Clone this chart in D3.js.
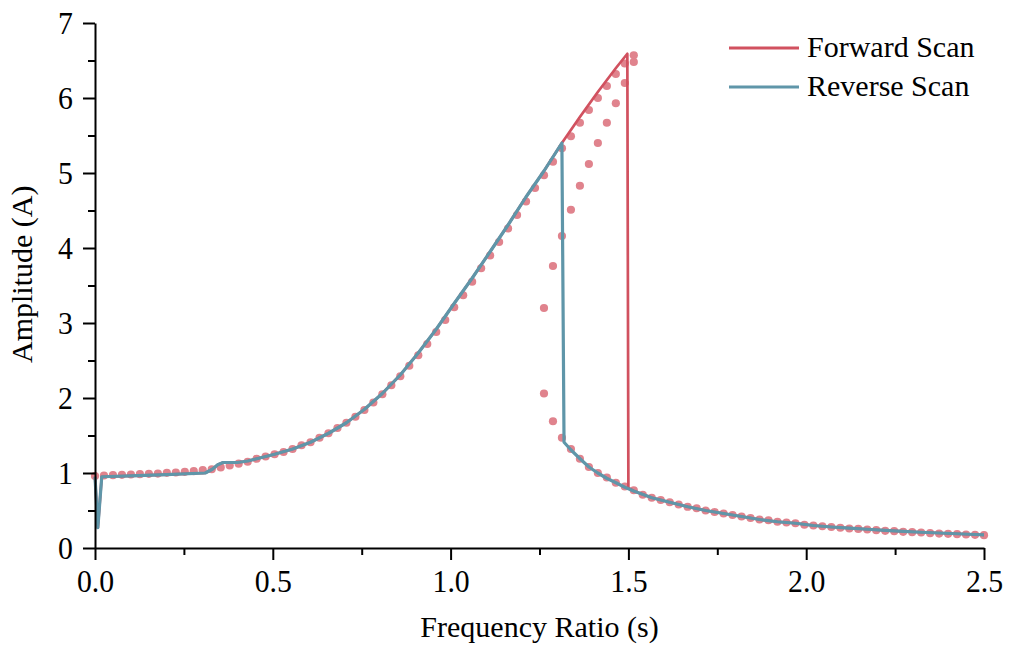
<!DOCTYPE html>
<html>
<head>
<meta charset="utf-8">
<script src="https://cdn.jsdelivr.net/npm/d3@7"></script>
<style>
  html, body { margin: 0; padding: 0; background: #fff; }
  svg { display: block; font-family: "Liberation Serif", "Times New Roman", serif; }
</style>
</head>
<body>
<svg width="1009" height="648"></svg>
<script>

// analytic response (dots), sampled on 100 points between 0 and 2.5
var dotStep = 2.5 / 99;

// stable / upper branch, index 0..60
var dotsUpper = [0.96, 0.967, 0.971, 0.976, 0.98, 0.984, 0.989, 0.993, 1.002, 1.007,
                 1.016, 1.024, 1.038, 1.05, 1.075, 1.10, 1.125, 1.15, 1.19, 1.22,
                 1.25, 1.28, 1.32, 1.37, 1.41, 1.47, 1.53, 1.60, 1.67, 1.75,
                 1.84, 1.94, 2.05, 2.17, 2.29, 2.43, 2.57, 2.72, 2.88, 3.04,
                 3.21, 3.37, 3.55, 3.73, 3.90, 4.08, 4.26, 4.44, 4.62, 4.80,
                 4.97, 5.15, 5.33, 5.49, 5.67, 5.84, 6.00, 6.16, 6.32, 6.46,
                 6.57];

// unstable branch, index 50..60
var dotsUnstable = [3.20, 3.76, 4.16, 4.51, 4.83, 5.12, 5.40, 5.67, 5.93, 6.20, 6.48];

// lower branch, index 50..99
var dotsLower = [2.06, 1.69, 1.47, 1.32, 1.19, 1.08, 1.00, 0.94, 0.87, 0.82,
                 0.77, 0.71, 0.67, 0.64, 0.61, 0.58, 0.55, 0.53, 0.50, 0.48,
                 0.46, 0.44, 0.42, 0.40, 0.38, 0.37, 0.35, 0.34, 0.33, 0.31,
                 0.30, 0.29, 0.28, 0.27, 0.26, 0.255, 0.247, 0.238, 0.229, 0.224,
                 0.216, 0.211, 0.207, 0.198, 0.193, 0.189, 0.184, 0.18, 0.176, 0.171];

// simulated scans
var forwardX = [0, 0.008, 0.019, 0.1, 0.2, 0.31, 0.33, 0.345, 0.36, 0.40,
                0.43, 0.455, 0.48, 0.505, 0.556, 0.606, 0.657, 0.707, 0.758, 0.808,
                0.859, 0.909, 0.960, 1.010, 1.061, 1.111, 1.162, 1.212, 1.263, 1.313,
                1.364, 1.414, 1.465, 1.497, 1.500, 1.515, 1.566, 1.616, 1.667, 1.717,
                1.768, 1.818, 1.869, 1.919, 1.970, 2.020, 2.071, 2.121, 2.172, 2.222,
                2.273, 2.323, 2.374, 2.424, 2.475, 2.5];
var forwardY = [0.95, 0.27, 0.95, 0.962, 0.978, 1.00, 1.05, 1.11, 1.14, 1.14,
                1.16, 1.19, 1.22, 1.25, 1.32, 1.41, 1.53, 1.67, 1.85, 2.06,
                2.31, 2.60, 2.92, 3.26, 3.60, 3.95, 4.31, 4.68, 5.03, 5.40,
                5.75, 6.08, 6.40, 6.59, 0.80, 0.76, 0.67, 0.61, 0.55, 0.50,
                0.46, 0.42, 0.38, 0.35, 0.33, 0.30, 0.28, 0.265, 0.25, 0.235,
                0.222, 0.21, 0.20, 0.19, 0.18, 0.175];

var reverseX = [0, 0.008, 0.019, 0.1, 0.2, 0.31, 0.33, 0.345, 0.36, 0.40,
                0.43, 0.455, 0.48, 0.505, 0.556, 0.606, 0.657, 0.707, 0.758, 0.808,
                0.859, 0.909, 0.960, 1.010, 1.061, 1.111, 1.162, 1.212, 1.263, 1.313,
                1.319, 1.338, 1.364, 1.389, 1.414, 1.439, 1.465, 1.490, 1.515, 1.566,
                1.616, 1.667, 1.717, 1.768, 1.818, 1.869, 1.919, 1.970, 2.020, 2.071,
                2.121, 2.172, 2.222, 2.273, 2.323, 2.374, 2.424, 2.475, 2.5];
var reverseY = [0.95, 0.27, 0.95, 0.962, 0.978, 1.00, 1.05, 1.11, 1.14, 1.14,
                1.16, 1.19, 1.22, 1.25, 1.32, 1.41, 1.53, 1.67, 1.85, 2.06,
                2.31, 2.60, 2.92, 3.26, 3.60, 3.95, 4.31, 4.68, 5.03, 5.40,
                1.41, 1.31, 1.19, 1.08, 1.00, 0.93, 0.87, 0.81, 0.76, 0.67,
                0.61, 0.55, 0.50, 0.46, 0.42, 0.38, 0.35, 0.33, 0.30, 0.28,
                0.265, 0.25, 0.235, 0.222, 0.21, 0.20, 0.19, 0.18, 0.175];

var xTicks = [0, 0.5, 1.0, 1.5, 2.0, 2.5];
var xMinorTicks = [0.25, 0.75, 1.25, 1.75, 2.25];
var yTicks = [0, 1, 2, 3, 4, 5, 6, 7];
var yMinorTicks = [0.5, 1.5, 2.5, 3.5, 4.5, 5.5, 6.5];

var seriesNames = ['Forward Scan', 'Reverse Scan'];
var seriesColors = ['#d1515f', '#5f96a9'];
var dotColor = '#e0838d';

var svg = d3.select('svg');

var x = d3.scaleLinear().domain([0, 2.5]).range([95, 984]);
var y = d3.scaleLinear().domain([0, 7]).range([548, 23]);

// dots
var dots = [];
dotsUpper.forEach(function(v, i){ dots.push([i * dotStep, v]) });
dotsUnstable.forEach(function(v, i){ dots.push([(i + 50) * dotStep, v]) });
dotsLower.forEach(function(v, i){ dots.push([(i + 50) * dotStep, v]) });

svg.append('g')
  .selectAll('circle')
  .data(dots)
  .enter()
  .append('circle')
    .attr('cx', function(d){ return x(d[0]) })
    .attr('cy', function(d){ return y(d[1]) })
    .attr('r', 4.1)
    .style('fill', dotColor);

// lines
var line = d3.line()
  .x(function(d){ return x(d[0]) })
  .y(function(d){ return y(d[1]) });

var forward = forwardX.map(function(v, i){ return [v, forwardY[i]] });
var reverse = reverseX.map(function(v, i){ return [v, reverseY[i]] });

svg.append('path')
  .datum(forward)
  .attr('d', line)
  .style('fill', 'none')
  .style('stroke', seriesColors[0])
  .style('stroke-width', 2.7)
  .style('stroke-linejoin', 'round');

svg.append('path')
  .datum(reverse)
  .attr('d', line)
  .style('fill', 'none')
  .style('stroke', seriesColors[1])
  .style('stroke-width', 3.2)
  .style('stroke-linejoin', 'round');

// axes
svg.append('g')
  .attr('transform', 'translate(0,' + y(0) + ')')
  .call(d3.axisBottom(x).tickValues(xTicks).tickFormat(d3.format('.1f'))
        .tickSize(12).tickSizeOuter(0).tickPadding(9));

svg.append('g')
  .attr('transform', 'translate(0,' + y(0) + ')')
  .call(d3.axisBottom(x).tickValues(xMinorTicks).tickFormat('')
        .tickSize(7).tickSizeOuter(0))
  .select('.domain').remove();

svg.append('g')
  .attr('transform', 'translate(' + x(0) + ',0)')
  .call(d3.axisLeft(y).tickValues(yTicks).tickFormat(d3.format('d'))
        .tickSize(12).tickSizeOuter(0).tickPadding(10));

svg.append('g')
  .attr('transform', 'translate(' + x(0) + ',0)')
  .call(d3.axisLeft(y).tickValues(yMinorTicks).tickFormat('')
        .tickSize(7).tickSizeOuter(0))
  .select('.domain').remove();

svg.selectAll('.domain, .tick line')
  .style('stroke', '#000')
  .style('stroke-width', 2);

// tick labels: a bit taller and narrower, like the original
svg.selectAll('.tick text')
  .style('font-family', '"Liberation Serif", "Times New Roman", serif')
  .style('font-size', '32px')
  .style('fill', '#000')
  .each(function(){
    var w = this.getComputedTextLength();
    d3.select(this).attr('textLength', w * 0.93).attr('lengthAdjust', 'spacingAndGlyphs');
  });

// axis titles
svg.append('text')
  .attr('x', (x(0) + x(2.5)) / 2)
  .attr('y', 637)
  .attr('text-anchor', 'middle')
  .style('font-size', '30px')
  .text('Frequency Ratio (s)');

svg.append('text')
  .attr('transform', 'translate(32,' + y(3.65) + ') rotate(-90)')
  .attr('text-anchor', 'middle')
  .style('font-size', '30px')
  .text('Amplitude (A)');

// legend
var legend = svg.append('g')
  .selectAll('g')
  .data(seriesNames)
  .enter()
  .append('g')
    .attr('transform', function(d, i){ return 'translate(729,' + (48 + i * 39) + ')' });

legend.append('line')
  .attr('x1', 0).attr('x2', 70)
  .style('stroke', function(d, i){ return seriesColors[i] })
  .style('stroke-width', 3);

legend.append('text')
  .attr('x', 78)
  .attr('y', 9)
  .style('font-size', '30px')
  .text(function(d){ return d });

</script>
</body>
</html>
